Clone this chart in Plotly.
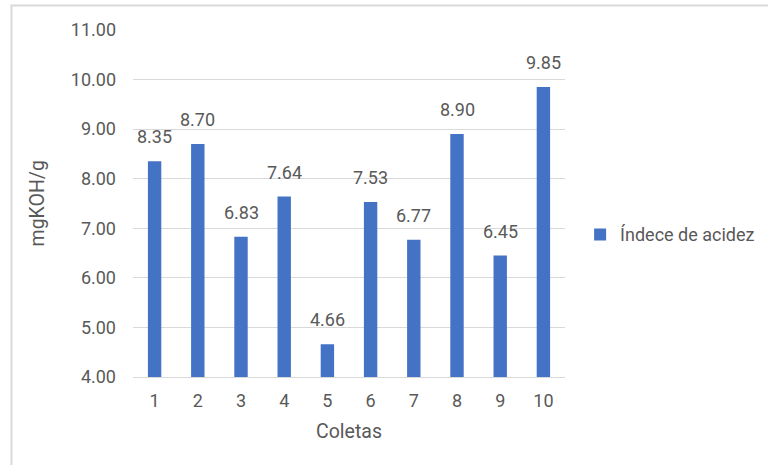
import plotly.graph_objects as go

# Acid index per sampling (mgKOH/g)
coletas = ["1", "2", "3", "4", "5", "6", "7", "8", "9", "10"]
indice_acidez = [8.35, 8.70, 6.83, 7.64, 4.66, 7.53, 6.77, 8.90, 6.45, 9.85]
y_ticks = [4, 5, 6, 7, 8, 9, 10, 11]
y_tick_labels = ["4.00", "5.00", "6.00", "7.00", "8.00", "9.00", "10.00", "11.00"]

FONT = "Roboto, Liberation Sans, Arial, sans-serif"
TEXT = "#595959"
BAR = "#4472C4"
GRID = "#D9D9D9"

fig = go.Figure()
fig.add_trace(go.Bar(
    x=coletas,
    y=indice_acidez,
    name="Índece de acidez",
    marker=dict(color=BAR, line=dict(width=0)),
    base=0,
))

# value labels above each bar (category axis positions are indices)
value_labels = [
    dict(x=i, y=v, xref="x", yref="y", text=f"{v:.2f}",
         xanchor="center", yanchor="bottom", yshift=12, showarrow=False,
         font=dict(family=FONT, size=18, color=TEXT))
    for i, v in enumerate(indice_acidez)
]

fig.update_layout(
    width=768, height=465,
    margin=dict(l=133, r=203, t=30, b=88, autoexpand=False),
    paper_bgcolor="white",
    plot_bgcolor="white",
    bargap=0.69,
    font=dict(family=FONT, size=18, color=TEXT),
    showlegend=True,
    legend=dict(
        x=1.035, y=0.41, xanchor="left", yanchor="middle",
        font=dict(family=FONT, size=18, color=TEXT),
        itemwidth=30,
        bgcolor="rgba(0,0,0,0)",
    ),
    xaxis=dict(
        type="category",
        showgrid=False,
        showline=True, linecolor=GRID, linewidth=1,
        ticks="",
        tickfont=dict(family=FONT, size=18, color=TEXT),
        ticklabelstandoff=7,
    ),
    yaxis=dict(
        range=[4, 11],
        tickvals=y_ticks,
        ticktext=y_tick_labels,
        showgrid=True, gridcolor=GRID, gridwidth=1,
        zeroline=False,
        showline=False,
        ticks="",
        tickfont=dict(family=FONT, size=18, color=TEXT),
        ticklabelstandoff=16,
    ),
    annotations=value_labels + [
        dict(text="Coletas", xref="paper", yref="paper",
             x=0.5, y=-0.156, xanchor="center", yanchor="middle",
             showarrow=False, font=dict(family=FONT, size=19.5, color=TEXT)),
        dict(text="mgKOH/g", xref="paper", yref="paper",
             x=-0.220, y=0.5, xanchor="center", yanchor="middle",
             textangle=-90, showarrow=False,
             font=dict(family=FONT, size=19.5, color=TEXT)),
    ],
    shapes=[
        dict(type="rect", xref="paper", yref="paper",
             x0=-0.2813, x1=2.0, y0=-1.0, y1=1.0706,
             line=dict(color=GRID, width=2), fillcolor="rgba(0,0,0,0)",
             layer="below"),
    ],
)

fig.write_html("out.html")
